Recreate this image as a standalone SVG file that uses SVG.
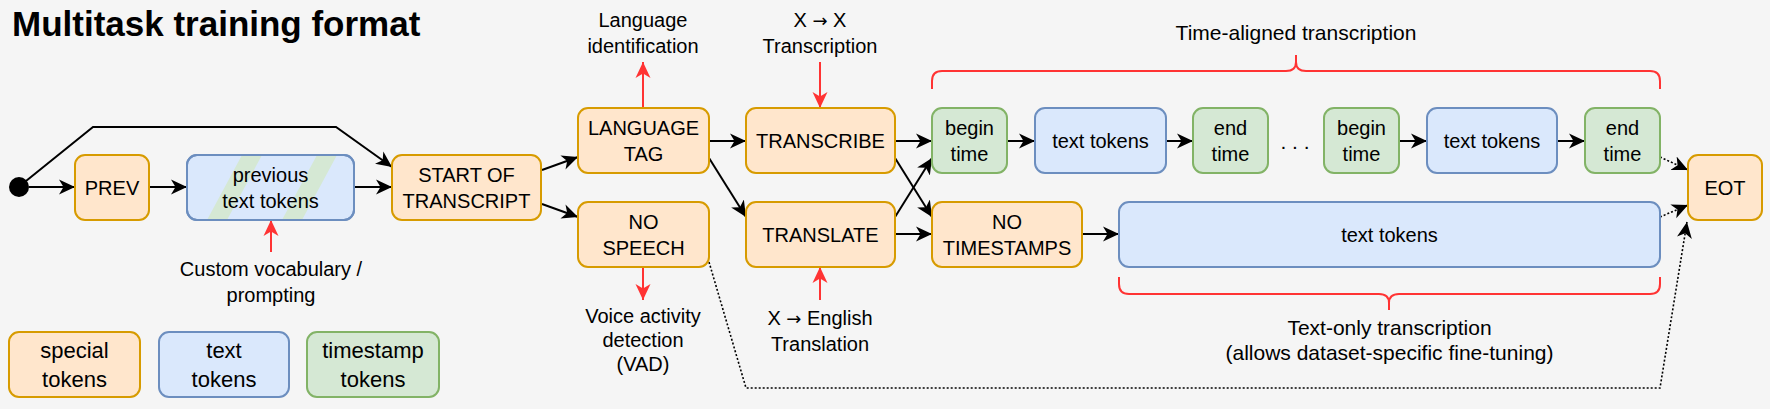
<svg xmlns="http://www.w3.org/2000/svg" width="1770" height="409" viewBox="0 0 1770 409">
<defs>
<style>
text{font-family:"Liberation Sans",Arial,sans-serif;fill:#000;}
.t{font-size:20px;text-anchor:middle;}
.t21{font-size:21px;text-anchor:middle;}
.lg{font-size:22px;text-anchor:middle;}
.arw{font-family:"DejaVu Sans",sans-serif;font-size:18px;}
.sp{fill:#ffe6cc;stroke:#d79b00;stroke-width:2;}
.tx{fill:#dae8fc;stroke:#6c8ebf;stroke-width:2;}
.ts{fill:#d5e8d4;stroke:#82b366;stroke-width:2;}
.c{fill:none;stroke:#000;stroke-width:2;marker-end:url(#ab);}
.d{fill:none;stroke:#000;stroke-width:1.6;stroke-dasharray:2 2;marker-end:url(#ab);}
.r{fill:none;stroke:#ff3333;stroke-width:2;marker-end:url(#ar);}
.br{fill:none;stroke:#ff3333;stroke-width:2;}
</style>
<marker id="ab" viewBox="0 0 16 16" refX="16" refY="8" markerWidth="16" markerHeight="16" markerUnits="userSpaceOnUse" orient="auto">
<path d="M0,0.5 L16,8 L0,15.5 L4.5,8 Z" fill="#000"/>
</marker>
<marker id="ar" viewBox="0 0 16 16" refX="16" refY="8" markerWidth="16" markerHeight="16" markerUnits="userSpaceOnUse" orient="auto">
<path d="M0,0.5 L16,8 L0,15.5 L4.5,8 Z" fill="#ff3333"/>
</marker>
<clipPath id="clipPrev"><rect x="187" y="155" width="167" height="65" rx="10"/></clipPath>
</defs>
<rect x="0" y="0" width="1770" height="409" fill="#f5f5f5"/>

<text x="12" y="36" style="font-size:35px;font-weight:bold;">Multitask training format</text>

<g id="connectors">
<path class="c" d="M29,187 L75,187"/>
<path class="c" d="M149,187 L187,187"/>
<path class="c" d="M354,187 L392,187"/>
<path class="c" d="M26,181 L93,127 L336,127 L392,167"/>
<path class="c" d="M542,170 L578,157"/>
<path class="c" d="M542,204 L578,217"/>
<path class="c" d="M709,141 L746,141"/>
<path class="c" d="M709,158 L746,217"/>
<path class="c" d="M895,141 L932,141"/>
<path class="c" d="M895,158 L932,217"/>
<path class="c" d="M895,217 L932,158"/>
<path class="c" d="M895,234 L932,234"/>
<path class="c" d="M1007,141 L1035,141"/>
<path class="c" d="M1166,141 L1193,141"/>
<path class="c" d="M1399,141 L1427,141"/>
<path class="c" d="M1557,141 L1585,141"/>
<path class="c" d="M1082,234 L1119,234"/>
<path class="d" d="M1660,157 L1688,170"/>
<path class="d" d="M1660,217 L1688,205"/>
<path class="d" d="M709,262 L746,388 L1660,388 L1687,222"/>
<path class="r" d="M643,108 L643,62"/>
<path class="r" d="M820,62 L820,108"/>
<path class="r" d="M643,267 L643,300"/>
<path class="r" d="M820,300 L820,267"/>
<path class="r" d="M271,252 L271,220"/>
</g>

<circle cx="19" cy="187" r="10" fill="#000"/>

<g id="prev"><rect class="sp" x="75" y="155" width="74" height="65" rx="10"/><text class="t" x="112" y="194.5">PREV</text></g>
<g id="prevtext">
<rect class="tx" x="187" y="155" width="167" height="65" rx="10"/>
<g clip-path="url(#clipPrev)" fill="#d5e8d4">
<polygon points="207,220 227,220 262,155 242,155"/>
<polygon points="282,220 302,220 337,155 317,155"/>
</g>
<rect x="187" y="155" width="167" height="65" rx="10" fill="none" stroke="#6c8ebf" stroke-width="2"/>
<text class="t" x="270.5" y="181.5">previous</text><text class="t" x="270.5" y="207.5">text tokens</text>
</g>
<g id="sot"><rect class="sp" x="392" y="155" width="149" height="65" rx="10"/><text class="t" x="466.5" y="181.5">START OF</text><text class="t" x="466.5" y="207.5">TRANSCRIPT</text></g>
<g id="langtag"><rect class="sp" x="578" y="108" width="131" height="65" rx="10"/><text class="t" x="643.5" y="134.5">LANGUAGE</text><text class="t" x="643.5" y="160.5">TAG</text></g>
<g id="nospeech"><rect class="sp" x="578" y="202" width="131" height="65" rx="10"/><text class="t" x="643.5" y="228.5">NO</text><text class="t" x="643.5" y="254.5">SPEECH</text></g>
<g id="transcribe"><rect class="sp" x="746" y="108" width="149" height="65" rx="10"/><text class="t" x="820.5" y="147.5">TRANSCRIBE</text></g>
<g id="translate"><rect class="sp" x="746" y="202" width="149" height="65" rx="10"/><text class="t" x="820.5" y="241.5">TRANSLATE</text></g>
<g id="begin1"><rect class="ts" x="932" y="108" width="75" height="65" rx="10"/><text class="t" x="969.5" y="134.5">begin</text><text class="t" x="969.5" y="160.5">time</text></g>
<g id="text1"><rect class="tx" x="1035" y="108" width="131" height="65" rx="10"/><text class="t" x="1100.5" y="147.5">text tokens</text></g>
<g id="end1"><rect class="ts" x="1193" y="108" width="75" height="65" rx="10"/><text class="t" x="1230.5" y="134.5">end</text><text class="t" x="1230.5" y="160.5">time</text></g>
<text class="t" x="1295" y="149" style="font-size:21px;">. . .</text>
<g id="begin2"><rect class="ts" x="1324" y="108" width="75" height="65" rx="10"/><text class="t" x="1361.5" y="134.5">begin</text><text class="t" x="1361.5" y="160.5">time</text></g>
<g id="text2"><rect class="tx" x="1427" y="108" width="130" height="65" rx="10"/><text class="t" x="1492" y="147.5">text tokens</text></g>
<g id="end2"><rect class="ts" x="1585" y="108" width="75" height="65" rx="10"/><text class="t" x="1622.5" y="134.5">end</text><text class="t" x="1622.5" y="160.5">time</text></g>
<g id="notimestamps"><rect class="sp" x="932" y="202" width="150" height="65" rx="10"/><text class="t" x="1007" y="228.5">NO</text><text class="t" x="1007" y="254.5">TIMESTAMPS</text></g>
<g id="textlong"><rect class="tx" x="1119" y="202" width="541" height="65" rx="10"/><text class="t" x="1389.5" y="241.5">text tokens</text></g>
<g id="eot"><rect class="sp" x="1688" y="155" width="74" height="65" rx="10"/><text class="t" x="1725" y="194.5">EOT</text></g>

<g id="braces">
<path class="br" d="M932,89 L932,81 Q932,71 942,71 L1286,71 Q1296,71 1296,62 L1296,55 M1296,62 Q1296,71 1306,71 L1650,71 Q1660,71 1660,81 L1660,89"/>
<path class="br" d="M1119,277 L1119,284 Q1119,294 1129,294 L1379,294 Q1389,294 1389,303 L1389,310 M1389,303 Q1389,294 1399,294 L1650,294 Q1660,294 1660,284 L1660,277"/>
</g>

<g id="labels">
<text class="t" x="643" y="27">Language</text><text class="t" x="643" y="53">identification</text>
<text class="t" x="820" y="27">X <tspan class="arw">→</tspan> X</text><text class="t" x="820" y="53">Transcription</text>
<text class="t21" x="1296" y="40">Time-aligned transcription</text>
<text class="t" x="271" y="276">Custom vocabulary /</text><text class="t" x="271" y="302">prompting</text>
<text class="t" x="643" y="323">Voice activity</text><text class="t" x="643" y="347">detection</text><text class="t" x="643" y="371">(VAD)</text>
<text class="t" x="820" y="325">X <tspan class="arw">→</tspan> English</text><text class="t" x="820" y="351">Translation</text>
<text class="t21" x="1389.5" y="335">Text-only transcription</text><text class="t21" x="1389.5" y="360">(allows dataset-specific fine-tuning)</text>
</g>

<g id="legend-special"><rect class="sp" x="9" y="332" width="131" height="65" rx="10"/><text class="lg" x="74.5" y="358">special</text><text class="lg" x="74.5" y="386.5">tokens</text></g>
<g id="legend-text"><rect class="tx" x="159" y="332" width="130" height="65" rx="10"/><text class="lg" x="224" y="358">text</text><text class="lg" x="224" y="386.5">tokens</text></g>
<g id="legend-timestamp"><rect class="ts" x="307" y="332" width="132" height="65" rx="10"/><text class="lg" x="373" y="358">timestamp</text><text class="lg" x="373" y="386.5">tokens</text></g>
</svg>
